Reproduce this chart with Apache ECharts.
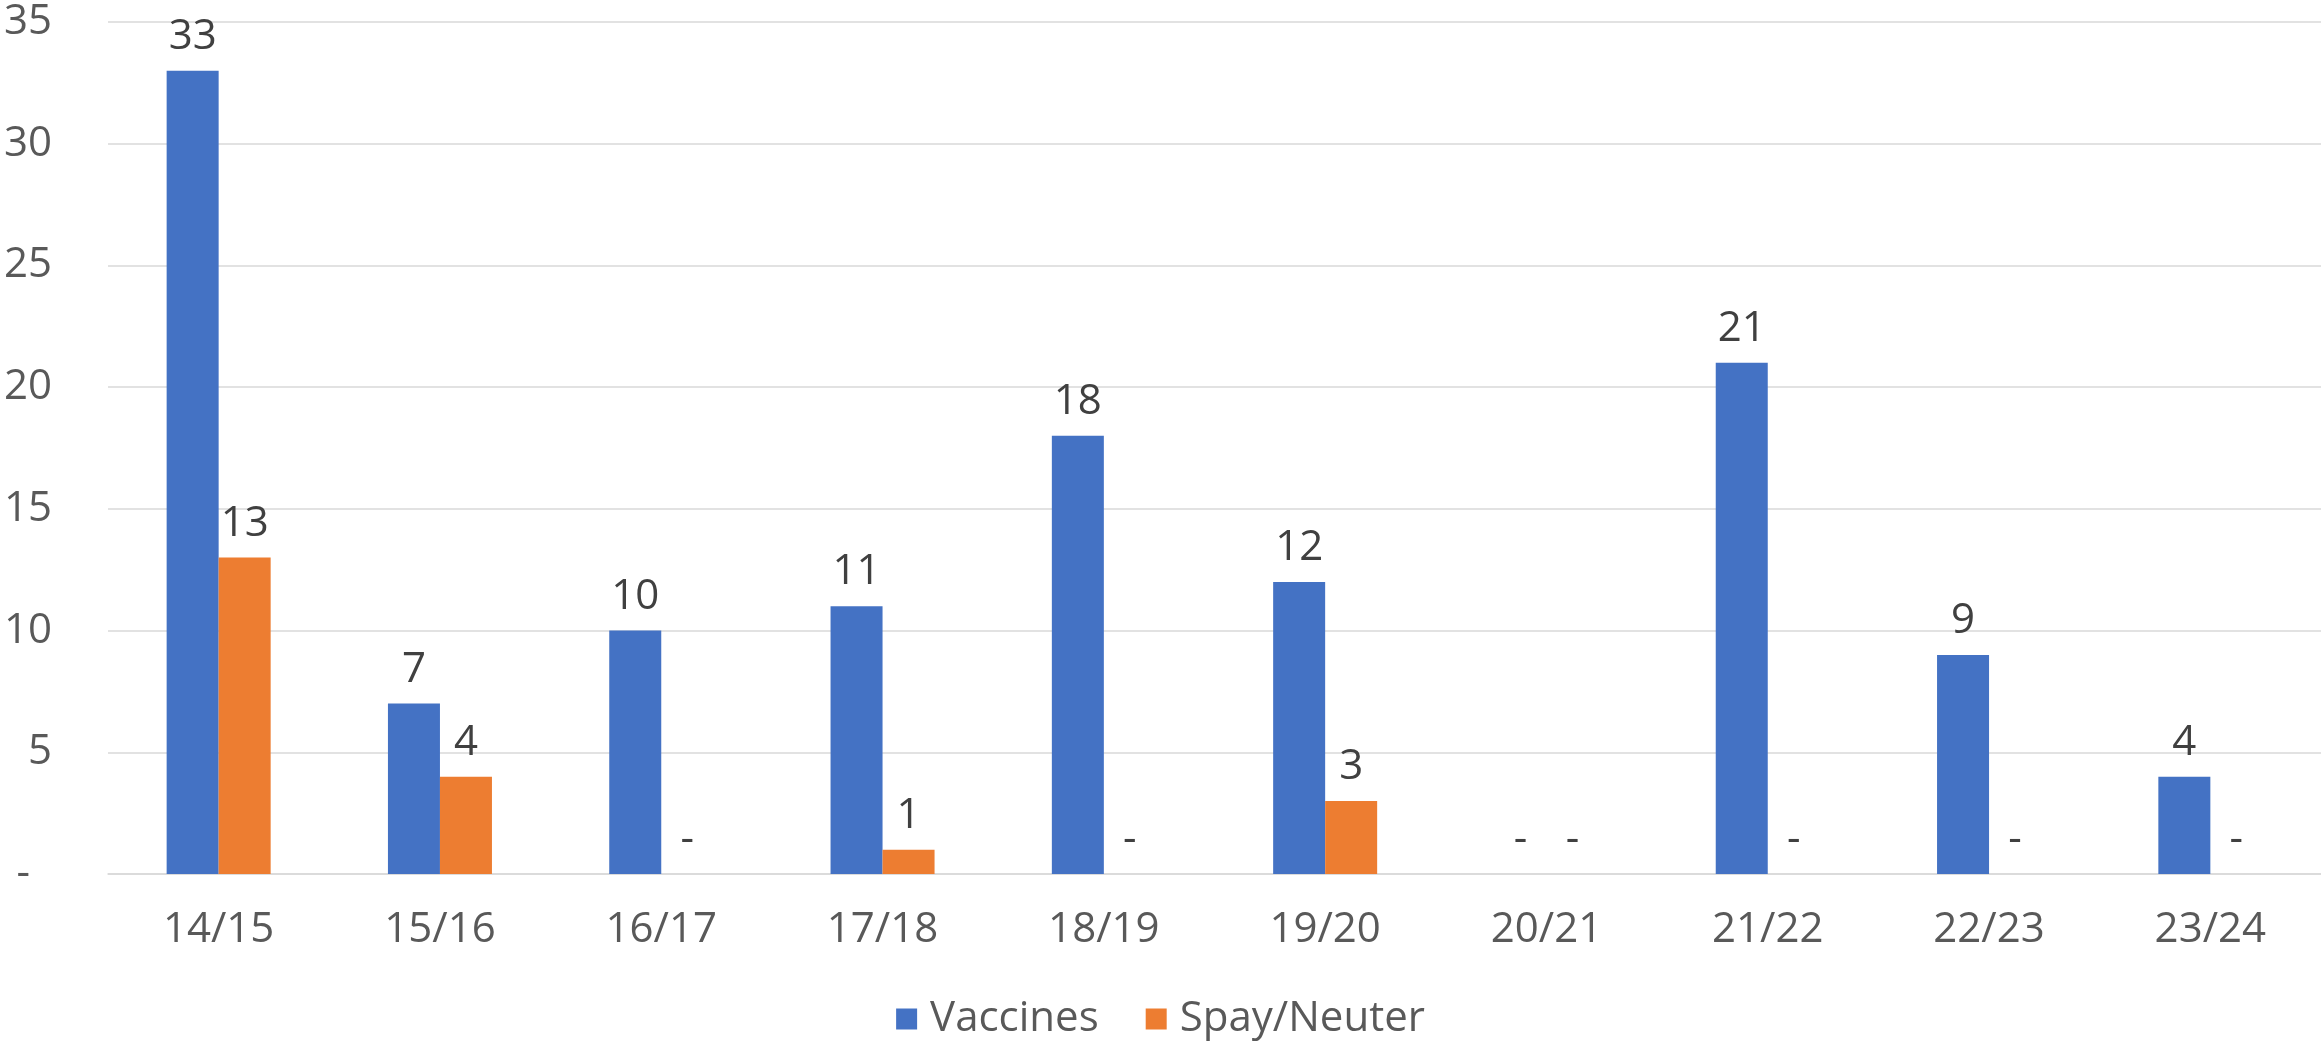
<!DOCTYPE html>
<html>
<head>
<meta charset="utf-8">
<title>Vaccines and Spay/Neuter</title>
<style>
html,body{margin:0;padding:0;background:#fff;}
#main{width:2321px;height:1041px;}
</style>
</head>
<body>
<div id="main"></div>
<script src="https://cdn.jsdelivr.net/npm/echarts@6/dist/echarts.min.js"></script>
<script>
var years = ['14/15','15/16','16/17','17/18','18/19','19/20','20/21','21/22','22/23','23/24'];
var vaccines = [33, 7, 10, 11, 18, 12, 0, 21, 9, 4];
var spayNeuter = [13, 4, 0, 1, 0, 3, 0, 0, 0, 0];
var yTicks = [0, 5, 10, 15, 20, 25, 30, 35];

var font = 'Open Sans';
var fs = 42;
var axisColor = '#595959';
var labelColor = '#404040';
var gridColor = '#d9d9d9';

var myChart = echarts.init(document.getElementById('main'));

function dash(v){
  return v === 0 ? '-' : v;
}

var barLabel = {
  show: true,
  position: 'top',
  distance: 13,
  color: labelColor,
  fontFamily: font,
  fontSize: fs,
  formatter: function(p){ return dash(p.value); }
};

var option = {
  animation: false,
  backgroundColor: '#fff',
  legend: {
    data: ['Vaccines', 'Spay/Neuter'],
    left: 'center',
    top: 993,
    icon: 'rect',
    itemWidth: 21,
    itemHeight: 21,
    itemGap: 47,
    textStyle: {
      color: axisColor,
      fontFamily: font,
      fontSize: fs,
      padding: [0, 0, 0, 8]
    }
  },
  grid: {
    left: 108,
    right: 0,
    top: 22,
    bottom: 167
  },
  xAxis: {
    type: 'category',
    data: years,
    axisTick: {show: false},
    axisLine: {lineStyle: {color: gridColor, width: 1.5}},
    axisLabel: {
      color: axisColor,
      fontFamily: font,
      fontSize: fs,
      margin: 35
    }
  },
  yAxis: {
    type: 'value',
    min: yTicks[0],
    max: yTicks[yTicks.length - 1],
    interval: 5,
    axisLine: {show: false},
    axisTick: {show: false},
    splitLine: {lineStyle: {color: gridColor, width: 1.5}},
    axisLabel: {
      color: axisColor,
      fontFamily: font,
      fontSize: fs,
      margin: 56,
      formatter: function(v){ return v === 0 ? '{z|-}' : v; },
      rich: {
        z: {color: axisColor, fontFamily: font, fontSize: fs, padding: [0, 22, 0, 0]}
      }
    }
  },
  series: [
    {
      name: 'Vaccines',
      type: 'bar',
      data: vaccines,
      barGap: '0%',
      barCategoryGap: '53%',
      itemStyle: {color: '#4472c4'},
      label: barLabel
    },
    {
      name: 'Spay/Neuter',
      type: 'bar',
      data: spayNeuter,
      itemStyle: {color: '#ed7d31'},
      label: barLabel
    }
  ]
};
myChart.setOption(option);
</script>
</body>
</html>
